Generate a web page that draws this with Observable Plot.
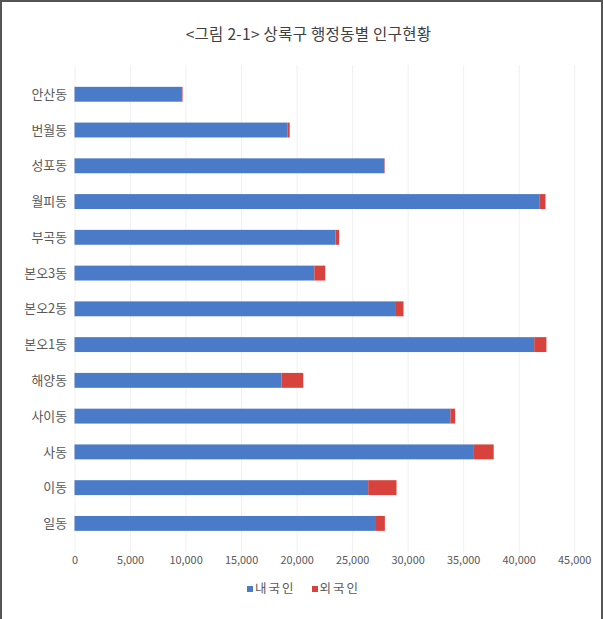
<!DOCTYPE html>
<html>
<head>
<meta charset="utf-8">
<script src="https://cdn.jsdelivr.net/npm/d3@7"></script>
<script src="https://cdn.jsdelivr.net/npm/@observablehq/plot@0.6"></script>
<style>
  html, body { margin: 0; padding: 0; background: #fff; }
  #frame {
    position: relative; width: 603px; height: 619px; box-sizing: border-box;
    border-left: 2px solid #555; border-top: 2px solid #555; border-right: 2px solid #555;
    font-family: "Noto Sans CJK KR", "Noto Sans", sans-serif; overflow: hidden;
  }
  #title {
    position: absolute; left: 0; top: 20px; width: 603px; text-align: center;
    font-size: 15.5px; color: #404040; line-height: 22px; padding-left: 10px; box-sizing: border-box;
    letter-spacing: 0.3px;
  }
  #chart { position: absolute; left: -2px; top: 57px; }
  #legend {
    position: absolute; left: 0; top: 576px; width: 603px; text-align: center;
    font-size: 12.5px; color: #595959; line-height: 20px; padding-left: 0px; box-sizing: border-box;
    letter-spacing: 2px;
  }
  .sw { display: inline-block; width: 6px; height: 6px; margin-right: 2px; vertical-align: middle; position: relative; top: -1px; }
  .item { margin: 0 8px; }
</style>
</head>
<body>
<div id="frame">
  <div id="title">&lt;그림 2-1&gt; 상록구 행정동별 인구현황</div>
  <div id="chart"></div>
  <div id="legend"></div>
</div>
<script>
const dongs = ["안산동","번월동","성포동","월피동","부곡동","본오3동","본오2동","본오1동","해양동","사이동","사동","이동","일동"];
const domestic = [9600, 19200, 27900, 41900, 23500, 21600, 28950, 41400, 18650, 33850, 35900, 26450, 27150];
const foreign  = [130, 180, 40, 520, 330, 980, 680, 1100, 1950, 430, 1850, 2550, 800];
const seriesNames = ["내국인", "외국인"];
const seriesColors = ["#4a7bc8", "#d8423c"];
const xTicks = [0, 5000, 10000, 15000, 20000, 25000, 30000, 35000, 40000, 45000];

const rows = [];
dongs.forEach((d, i) => {
  rows.push({dong: d, type: seriesNames[0], value: domestic[i]});
  rows.push({dong: d, type: seriesNames[1], value: foreign[i]});
});

const fmt = d3.format(",");
const chart = Plot.plot({
  width: 605,
  height: 522,
  marginLeft: 75,
  marginRight: 27,
  marginTop: 6,
  marginBottom: 25,
  style: {fontFamily: "'Noto Sans CJK KR', sans-serif", background: "transparent"},
  x: {domain: [0, 45000], ticks: xTicks, tickFormat: fmt},
  y: {domain: dongs, padding: 0.59},
  color: {domain: seriesNames, range: seriesColors},
  marks: [
    Plot.gridX(xTicks, {stroke: "#f0f0f0", strokeOpacity: 1}),
    Plot.barX(rows, Plot.stackX({x: "value", y: "dong", fill: "type", order: seriesNames})),
    Plot.axisX({ticks: xTicks, tickFormat: fmt, tickSize: 0, tickPadding: 3, label: null, fontSize: 11, fill: "#595959"}),
    Plot.axisY({tickSize: 0, tickPadding: 8, label: null, fontSize: 13, fill: "#595959", style: {letterSpacing: "2px"}})
  ]
});
document.getElementById("chart").appendChild(chart);

const legend = document.getElementById("legend");
seriesNames.forEach((n, i) => {
  const s = document.createElement("span");
  s.className = "item";
  s.innerHTML = `<span class="sw" style="background:${seriesColors[i]}"></span>${n}`;
  legend.appendChild(s);
});
</script>
</body>
</html>
